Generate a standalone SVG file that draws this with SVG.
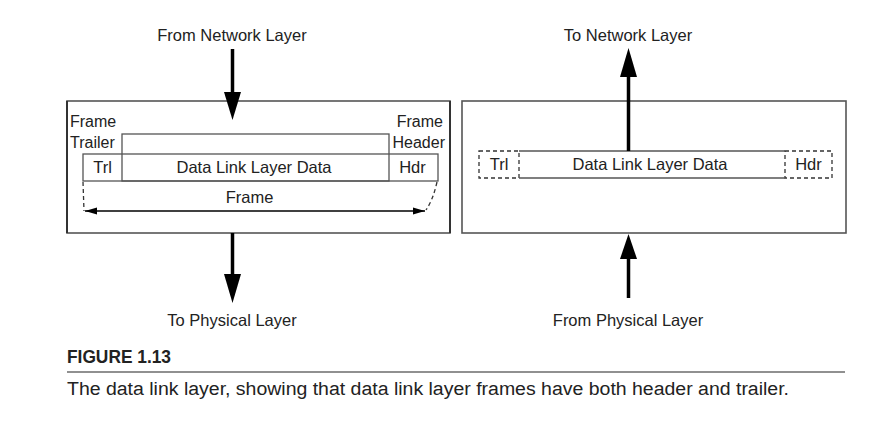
<svg xmlns="http://www.w3.org/2000/svg" width="884" height="421" viewBox="0 0 884 421">
<defs>
<style>
text{font-family:"Liberation Sans",Arial,sans-serif;fill:#222;}
.lbl{font-size:16.5px;text-anchor:middle;}
.cell{font-size:16.5px;text-anchor:middle;}
.side{font-size:16px;}
.box{fill:none;stroke:#555;stroke-width:1.6;}
.thin{fill:none;stroke:#555;stroke-width:1.3;}
.dash{fill:none;stroke:#333;stroke-width:1.3;stroke-dasharray:4 3;}
.shaft{stroke:#000;stroke-width:3.5;fill:none;}
.head{fill:#000;stroke:none;}
</style>
<marker id="dimL" markerWidth="12" markerHeight="8" refX="0" refY="4" orient="auto" markerUnits="userSpaceOnUse">
<path d="M0,4 L12,0.5 L12,7.5 Z" fill="#000"/>
</marker>
<marker id="dimR" markerWidth="12" markerHeight="8" refX="12" refY="4" orient="auto" markerUnits="userSpaceOnUse">
<path d="M12,4 L0,0.5 L0,7.5 Z" fill="#000"/>
</marker>
</defs>
<rect width="884" height="421" fill="#fff"/>

<g id="sender">
<rect class="box" x="67" y="101" width="383" height="132"/>
<line x1="67" y1="101" x2="67" y2="233" stroke="#333" stroke-width="2"/>
<line x1="450" y1="101" x2="450" y2="233" stroke="#333" stroke-width="2"/>
<text class="side" x="70" y="127">Frame</text>
<text class="side" x="70" y="148">Trailer</text>
<text class="side" x="443" y="127" text-anchor="end">Frame</text>
<text class="side" x="445" y="148" text-anchor="end">Header</text>
<rect class="thin" x="122" y="134" width="267" height="47"/>
<rect class="thin" x="83" y="154" width="355" height="27"/>
<text class="cell" x="102.5" y="173">Trl</text>
<text class="cell" x="254" y="173">Data Link Layer Data</text>
<text class="cell" x="412.5" y="173">Hdr</text>
<path class="dash" d="M83,182 L84,211"/>
<path class="dash" d="M437,182 Q433,200 426,210"/>
<line x1="85" y1="211" x2="425" y2="211" stroke="#000" stroke-width="1.5" marker-start="url(#dimL)" marker-end="url(#dimR)"/>
<text class="cell" x="249.5" y="203">Frame</text>
</g>

<g id="receiver">
<rect class="box" x="462" y="101" width="384" height="132"/>
<rect class="dash" x="479" y="151" width="40" height="27"/>
<rect class="dash" x="785" y="151" width="47" height="27"/>
<line class="thin" x1="519" y1="151" x2="785" y2="151"/>
<line class="thin" x1="519" y1="178" x2="785" y2="178"/>
<text class="cell" x="499" y="170">Trl</text>
<text class="cell" x="650" y="170">Data Link Layer Data</text>
<text class="cell" x="808.5" y="170">Hdr</text>
</g>

<g id="labels">
<text class="lbl" x="232" y="41">From Network Layer</text>
<text class="lbl" x="628" y="41">To Network Layer</text>
<text class="lbl" x="232" y="326">To Physical Layer</text>
<text class="lbl" x="628" y="326">From Physical Layer</text>
</g>

<g id="connectors">
<line class="shaft" x1="232.5" y1="49" x2="232.5" y2="94"/>
<polygon class="head" points="224,92 241,92 232.5,120"/>
<line class="shaft" x1="232.5" y1="233" x2="232.5" y2="276"/>
<polygon class="head" points="224,274 241,274 232.5,303"/>
<line class="shaft" x1="628.5" y1="151" x2="628.5" y2="75"/>
<polygon class="head" points="620,77 637,77 628.5,48"/>
<line class="shaft" x1="628.5" y1="298" x2="628.5" y2="257"/>
<polygon class="head" points="620,259 637,259 628.5,234"/>
</g>

<g id="caption">
<text x="67" y="363" style="font-size:18.5px;font-weight:bold" textLength="104" lengthAdjust="spacingAndGlyphs">FIGURE 1.13</text>
<line x1="67" y1="372" x2="845" y2="372" stroke="#222" stroke-width="1.2"/>
<text x="67" y="395" style="font-size:18px" textLength="722" lengthAdjust="spacingAndGlyphs">The data link layer, showing that data link layer frames have both header and trailer.</text>
</g>
</svg>
